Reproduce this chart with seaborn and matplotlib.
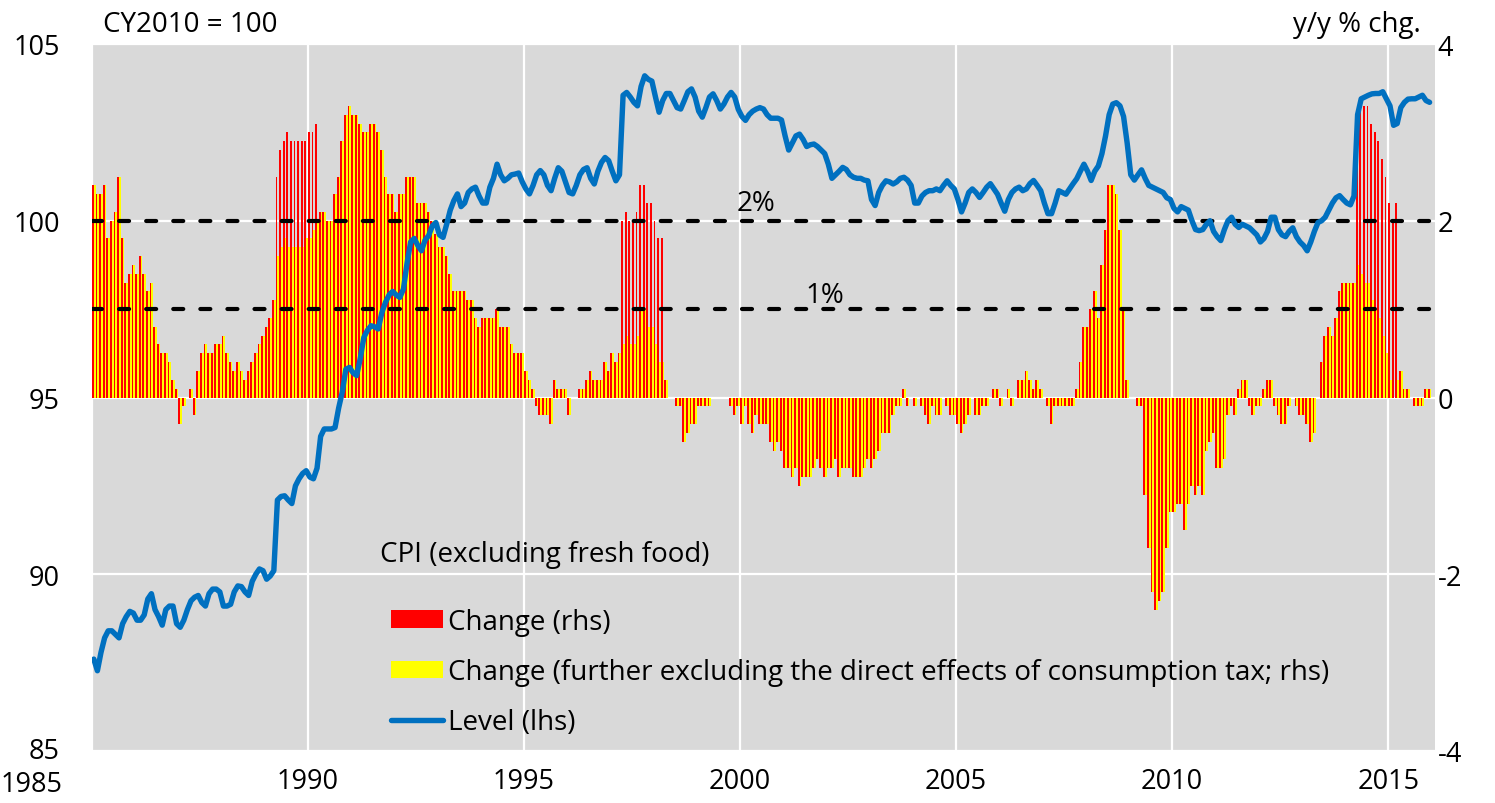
import numpy as np
import pandas as pd
import matplotlib
matplotlib.use("Agg")
import matplotlib.pyplot as plt
import matplotlib.patches as mpatches
from matplotlib.lines import Line2D
from matplotlib.transforms import ScaledTranslation
import seaborn as sns

# monthly data, Jan 1985 - Dec 2015 (one row per year)
# CPI excluding fresh food, y/y % change (rhs)
change = [
    2.4, 2.3, 2.3, 2.4, 1.8, 2.0, 2.1, 2.5, 1.8, 1.3, 1.4, 1.5,        # 1985
    1.4, 1.6, 1.4, 1.2, 1.3, 0.8, 0.6, 0.5, 0.5, 0.4, 0.2, 0.1,        # 1986
    -0.3, -0.1, 0.0, 0.1, -0.2, 0.3, 0.5, 0.6, 0.5, 0.5, 0.6, 0.6,     # 1987
    0.7, 0.5, 0.4, 0.3, 0.4, 0.3, 0.2, 0.3, 0.4, 0.5, 0.6, 0.7,        # 1988
    0.8, 0.9, 1.1, 2.5, 2.8, 2.9, 3.0, 2.9, 2.9, 2.9, 2.9, 2.9,        # 1989
    3.0, 3.0, 3.1, 2.1, 2.1, 2.0, 2.0, 2.3, 2.5, 2.9, 3.2, 3.3,        # 1990
    3.2, 3.2, 3.1, 3.0, 3.0, 3.1, 3.1, 3.0, 2.8, 2.5, 2.3, 2.3,        # 1991
    2.1, 2.3, 2.3, 2.5, 2.5, 2.5, 2.2, 2.2, 2.2, 2.1, 2.0, 1.85,       # 1992
    1.7, 1.7, 1.6, 1.4, 1.2, 1.2, 1.2, 1.2, 1.1, 1.1, 0.9, 0.8,        # 1993
    0.9, 0.9, 0.9, 0.9, 1.0, 0.8, 0.8, 0.8, 0.6, 0.5, 0.5, 0.5,        # 1994
    0.3, 0.2, 0.1, -0.1, -0.2, -0.2, -0.2, -0.3, 0.2, 0.1, 0.1, 0.1,   # 1995
    -0.2, 0.0, 0.0, 0.1, 0.1, 0.2, 0.3, 0.2, 0.2, 0.2, 0.4, 0.3,       # 1996
    0.5, 0.4, 0.5, 2.0, 2.1, 2.0, 2.0, 2.1, 2.4, 2.4, 2.2, 2.2,        # 1997
    2.0, 1.8, 1.8, 0.2, 0.0, 0.0, -0.1, -0.1, -0.5, -0.4, -0.3, -0.3,  # 1998
    -0.1, -0.1, -0.1, -0.1, 0.0, 0.0, 0.0, 0.0, 0.0, -0.1, -0.2, -0.1, # 1999
    -0.3, -0.1, -0.3, -0.4, -0.2, -0.3, -0.3, -0.3, -0.5, -0.6, -0.5, -0.6,  # 2000
    -0.8, -0.8, -0.9, -0.8, -1.0, -0.9, -0.9, -0.9, -0.8, -0.7, -0.8, -0.9,  # 2001
    -0.8, -0.8, -0.7, -0.9, -0.8, -0.8, -0.8, -0.9, -0.9, -0.9, -0.8, -0.7,  # 2002
    -0.8, -0.7, -0.6, -0.4, -0.4, -0.4, -0.2, -0.1, -0.1, 0.1, -0.1, 0.0,    # 2003
    -0.1, 0.0, -0.1, -0.2, -0.3, -0.1, -0.2, -0.2, 0.0, -0.1, -0.2, -0.2,    # 2004
    -0.3, -0.4, -0.3, -0.2, 0.0, -0.2, -0.2, -0.1, -0.1, 0.0, 0.1, 0.1,      # 2005
    -0.1, 0.0, 0.1, -0.1, 0.0, 0.2, 0.2, 0.3, 0.2, 0.1, 0.2, 0.1,           # 2006
    0.0, -0.1, -0.3, -0.1, -0.1, -0.1, -0.1, -0.1, -0.1, 0.1, 0.4, 0.8,     # 2007
    0.8, 1.0, 1.2, 0.9, 1.5, 1.9, 2.4, 2.4, 2.3, 1.9, 1.0, 0.2,             # 2008
    0.0, 0.0, -0.1, -0.1, -1.1, -1.7, -2.2, -2.4, -2.3, -2.2, -1.7, -1.3,   # 2009
    -1.3, -1.2, -1.2, -1.5, -1.2, -1.0, -1.1, -1.0, -1.1, -0.6, -0.5, -0.4, # 2010
    -0.8, -0.8, -0.7, -0.2, -0.1, -0.2, 0.1, 0.2, 0.2, -0.1, -0.2, -0.1,    # 2011
    -0.1, 0.1, 0.2, 0.2, -0.1, -0.2, -0.3, -0.3, -0.1, 0.0, -0.1, -0.2,     # 2012
    -0.2, -0.3, -0.5, -0.4, 0.0, 0.4, 0.7, 0.8, 0.7, 0.9, 1.2, 1.3,         # 2013
    1.3, 1.3, 1.3, 3.2, 3.4, 3.3, 3.3, 3.1, 3.0, 2.9, 2.7, 2.5,             # 2014
    2.2, 2.0, 2.2, 0.3, 0.1, 0.1, 0.0, -0.1, -0.1, -0.1, 0.1, 0.1,          # 2015
]

# y/y change further excluding consumption tax effects, Apr - Mar after each tax change
ex_tax_1989 = [1.6, 1.7, 1.8, 1.7, 1.7, 1.7, 1.7, 1.7, 1.8, 1.8, 1.9, 2.0]
ex_tax_1997 = [0.6, 0.7, 0.6, 0.6, 0.7, 1.0, 1.0, 0.8, 0.8, 0.6, 0.4, 0.4]
ex_tax_2014 = [1.5, 1.4, 1.3, 1.3, 1.1, 1.0, 0.9, 0.7, 0.5, 0.2, 0.0, 0.2]

# CPI level, CY2010 = 100 (lhs)
level = [
    87.6, 87.27, 87.79, 88.2, 88.4, 88.4, 88.3, 88.2, 88.6, 88.8, 88.95, 88.9,          # 1985
    88.7, 88.7, 88.85, 89.3, 89.45, 89.0, 88.8, 88.56, 89.0, 89.1, 89.1, 88.6,          # 1986
    88.5, 88.7, 89.0, 89.25, 89.35, 89.4, 89.2, 89.1, 89.45, 89.58, 89.58, 89.5,       # 1987
    89.1, 89.1, 89.15, 89.5, 89.67, 89.65, 89.5, 89.4, 89.8, 90.0, 90.15, 90.1,         # 1988
    89.86, 89.95, 90.1, 92.1, 92.2, 92.22, 92.1, 92.0, 92.5, 92.7, 92.85, 92.93,       # 1989
    92.75, 92.7, 93.0, 93.9, 94.11, 94.11, 94.11, 94.15, 94.7, 95.15, 95.8, 95.85,     # 1990
    95.7, 95.62, 96.1, 96.7, 96.9, 97.03, 97.0, 96.94, 97.4, 97.69, 97.9, 98.0,        # 1991
    97.9, 97.83, 98.07, 98.8, 99.4, 99.5, 99.3, 99.15, 99.45, 99.58, 99.85, 99.95,     # 1992
    99.6, 99.53, 99.9, 100.3, 100.57, 100.76, 100.4, 100.5, 100.8, 100.9, 100.95, 100.7,      # 1993
    100.5, 100.5, 100.95, 101.2, 101.6, 101.3, 101.13, 101.2, 101.3, 101.32, 101.35, 101.1,   # 1994
    100.9, 100.76, 101.0, 101.3, 101.42, 101.3, 101.0, 100.85, 101.2, 101.5, 101.4, 101.1,    # 1995
    100.8, 100.76, 101.0, 101.3, 101.45, 101.5, 101.2, 101.04, 101.4, 101.65, 101.79, 101.7,  # 1996
    101.4, 101.13, 101.3, 103.55, 103.63, 103.5, 103.35, 103.25, 103.8, 104.1, 104.0, 103.95, # 1997
    103.5, 103.07, 103.4, 103.6, 103.6, 103.4, 103.2, 103.16, 103.4, 103.65, 103.73, 103.5,   # 1998
    103.1, 102.93, 103.2, 103.5, 103.59, 103.4, 103.16, 103.3, 103.5, 103.63, 103.5, 103.15,  # 1999
    102.95, 102.84, 103.0, 103.1, 103.16, 103.2, 103.16, 103.0, 102.9, 102.9, 102.9, 102.85,  # 2000
    102.4, 102.0, 102.2, 102.4, 102.45, 102.3, 102.1, 102.15, 102.17, 102.1, 102.0, 101.9,    # 2001
    101.6, 101.2, 101.3, 101.4, 101.51, 101.45, 101.3, 101.23, 101.2, 101.2, 101.15, 101.13,  # 2002
    100.6, 100.43, 100.8, 101.0, 101.13, 101.1, 101.04, 101.1, 101.2, 101.23, 101.15, 101.0,  # 2003
    100.5, 100.5, 100.7, 100.8, 100.85, 100.85, 100.9, 100.85, 101.0, 101.13, 101.0, 100.9,   # 2004
    100.6, 100.25, 100.5, 100.8, 100.9, 100.8, 100.66, 100.8, 100.95, 101.05, 100.9, 100.75,  # 2005
    100.5, 100.27, 100.6, 100.8, 100.9, 100.95, 100.85, 100.9, 101.05, 101.14, 101.0, 100.85, # 2006
    100.5, 100.2, 100.2, 100.5, 100.85, 100.8, 100.75, 100.9, 101.05, 101.19, 101.4, 101.6,   # 2007
    101.4, 101.14, 101.4, 101.55, 101.9, 102.4, 103.0, 103.3, 103.34, 103.25, 102.95, 102.2,  # 2008
    101.3, 101.15, 101.3, 101.44, 101.2, 101.0, 100.95, 100.9, 100.85, 100.8, 100.65, 100.6,  # 2009
    100.35, 100.25, 100.4, 100.35, 100.3, 100.0, 99.75, 99.72, 99.75, 99.9, 100.0, 99.7,      # 2010
    99.55, 99.44, 99.75, 100.0, 100.1, 99.9, 99.81, 99.9, 99.85, 99.8, 99.7, 99.6,            # 2011
    99.4, 99.5, 99.7, 100.1, 100.1, 99.75, 99.6, 99.55, 99.7, 99.8, 99.55, 99.4,              # 2012
    99.3, 99.15, 99.4, 99.7, 99.95, 100.0, 100.1, 100.3, 100.5, 100.65, 100.71, 100.6,        # 2013
    100.5, 100.45, 100.7, 103.0, 103.45, 103.5, 103.55, 103.59, 103.6, 103.6, 103.65, 103.45, # 2014
    103.25, 102.7, 102.75, 103.2, 103.35, 103.44, 103.45, 103.45, 103.5, 103.55, 103.4, 103.35,  # 2015
]

year_labels = ["1985", "1990", "1995", "2000", "2005", "2010", "2015"]
left_ticks = [85, 90, 95, 100, 105]
right_ticks = [-4, -2, 0, 2, 4]

RED = "#FF0000"
YELLOW = "#FFFF00"
BLUE = "#0070C0"
BG = "#D9D9D9"

# build the ex-tax series: same as change except the 12 months after each tax change
change_ex_tax = list(change)
for start_year, vals in [(1989, ex_tax_1989), (1997, ex_tax_1997), (2014, ex_tax_2014)]:
    i0 = (start_year - 1985) * 12 + 3
    change_ex_tax[i0:i0 + 12] = vals

n = len(change)
months = list(range(n))
bars = pd.DataFrame({
    "month": months + months,
    "series": ["Change (rhs)"] * n + ["Change (ex tax)"] * n,
    "value": change + change_ex_tax,
})
line = pd.DataFrame({"month": months, "level": level})

sns.set_style("darkgrid", {"axes.facecolor": BG, "grid.color": "white"})
plt.rcParams["font.family"] = ["Open Sans", "DejaVu Sans"]
plt.rcParams["axes.unicode_minus"] = False
for k in ["text.color", "xtick.color", "ytick.color", "axes.labelcolor"]:
    plt.rcParams[k] = "black"

W, H = 1495, 804
fig = plt.figure(figsize=(W / 100, H / 100), dpi=100)
fig.patch.set_facecolor("white")
ax = fig.add_axes([92 / W, 1 - 752 / H, (1435 - 92) / W, (752 - 45) / H])

# bars on the primary axes (rhs scale)
sns.barplot(data=bars, x="month", y="value", hue="series", palette=[RED, YELLOW],
            dodge=True, width=1.0, gap=0, errorbar=None, saturation=1,
            linewidth=0, legend=False, ax=ax)

# level line on a twin axes (lhs scale)
ax2 = ax.twinx()
sns.lineplot(data=line, x="month", y="level", color=BLUE, linewidth=3.9,
             solid_capstyle="round", solid_joinstyle="round", ax=ax2)

ax.set_ylim(-4, 4)
ax.set_yticks(right_ticks)
ax.set_yticklabels([str(t) for t in right_ticks])
ax.yaxis.tick_right()
ax.set_xlim(-0.5, n + 0.5)
year_pos = [i * 60 - 0.5 for i in range(len(year_labels))]
ax.set_xticks(year_pos)
ax.set_xticklabels(year_labels)
ax.grid(True, color="white", linewidth=1.6)
ax.set_axisbelow(True)
ax.set_xlabel("")
ax.set_ylabel("")

for lvl in [2, 1]:
    ax.axhline(lvl, color="black", linewidth=3, linestyle=(0, (2.4, 4.1)),
               dash_capstyle="round", zorder=3)

ax.tick_params(axis="both", length=0, labelsize=19.5)
ax.tick_params(axis="y", pad=2)
ax.tick_params(axis="x", pad=11.5)

# the first year label sits left of the plot, as in the original
lab0 = ax.get_xticklabels()[0]
lab0.set_transform(lab0.get_transform() + ScaledTranslation(-0.6, -0.03, fig.dpi_scale_trans))

ax2.set_ylim(85, 105)
ax2.set_yticks(left_ticks)
ax2.set_yticklabels([str(t) for t in left_ticks])
ax2.yaxis.tick_left()
ax2.grid(False)
ax2.set_xlabel("")
ax2.set_ylabel("")
ax2.tick_params(axis="y", length=0, labelsize=19.5, pad=23)

# lift the bottom left-axis label a little so it clears the first year label
lab85 = ax2.get_yticklabels()[0]
lab85.set_transform(lab85.get_transform() + ScaledTranslation(0, 0.03, fig.dpi_scale_trans))

for a in (ax, ax2):
    for s in a.spines.values():
        s.set_visible(False)

# texts
fig.text(103 / W, 1 - 32 / H, "CY2010 = 100", fontsize=20, va="baseline", ha="left")
fig.text(1421 / W, 1 - 32 / H, "y/y % chg.", fontsize=20, va="baseline", ha="right")
fig.text(737 / W, 1 - 211 / H, "2%", fontsize=20, va="baseline", ha="left")
fig.text(805 / W, 1 - 303 / H, "1%", fontsize=20, va="baseline", ha="left")
fig.text(380 / W, 1 - 562 / H, "CPI (excluding fresh food)", fontsize=20,
         va="baseline", ha="left")

handles = [
    mpatches.Patch(facecolor=RED, edgecolor="none"),
    mpatches.Patch(facecolor=YELLOW, edgecolor="none"),
    Line2D([], [], color=BLUE, linewidth=3.9, solid_capstyle="round"),
]
labels = [
    "Change (rhs)",
    "Change (further excluding the direct effects of consumption tax; rhs)",
    "Level (lhs)",
]
ax2.legend(handles, labels, loc="upper left", bbox_to_anchor=(391 / W, 1 - 609 / H),
           bbox_transform=fig.transFigure, frameon=False, fontsize=20,
           borderpad=0, borderaxespad=0, handlelength=1.87, handleheight=0.61,
           handletextpad=0.18, labelspacing=0.8)

fig.savefig("out.png", dpi=100, facecolor="white")
